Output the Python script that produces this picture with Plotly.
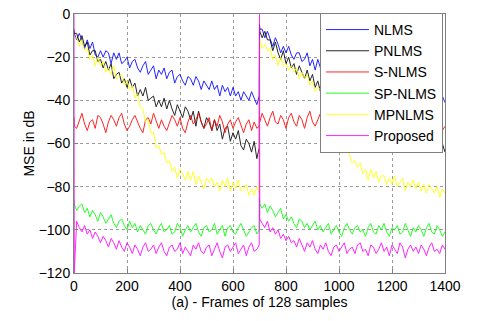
import plotly.graph_objects as go

# Frame indices (x axis): first echo path (0..699), second (700..1400)
frames_1 = [0, 1] + list(range(10, 700, 10)) + [699]
frames_2 = [700, 701] + list(range(710, 1401, 10))
frames = frames_1 + frames_2

series_names = ["NLMS", "PNLMS", "S-NLMS", "SP-NLMS", "MPNLMS", "Proposed"]

nlms = [
    -7, -9, -12, -9, -12, -16, -12, -16, -13, -19, -20, -17,
    -20, -17, -18, -23, -18, -21, -18, -23, -22, -20, -25, -22,
    -21, -25, -27, -24, -22, -28, -26, -24, -30, -26, -28, -25,
    -30, -27, -26, -32, -29, -28, -31, -33, -29, -30, -33, -29,
    -31, -35, -31, -33, -35, -31, -35, -33, -38, -33, -36, -34,
    -38, -34, -38, -36, -40, -36, -38, -40, -36, -39, -42, -38,
    -5, -7, -7, -11, -8, -12, -15, -11, -14, -18, -15, -18,
    -15, -19, -21, -18, -18, -22, -21, -18, -24, -21, -26, -21,
    -25, -22, -28, -24, -28, -23, -26, -29, -26, -30, -26, -29,
    -25, -30, -31, -27, -30, -33, -29, -29, -33, -30, -35, -30,
    -34, -31, -34, -32, -37, -32, -34, -38, -33, -36, -33, -38,
    -35, -39, -35, -38, -35, -40, -38, -41, -37, -40, -38, -41,
]

pnlms = [
    -8, -9, -9, -13, -10, -15, -13, -19, -17, -17, -22, -21,
    -25, -22, -26, -23, -30, -28, -27, -32, -30, -34, -30, -34,
    -32, -38, -35, -38, -34, -40, -39, -38, -43, -40, -43, -39,
    -44, -40, -44, -47, -42, -45, -48, -43, -45, -49, -45, -52,
    -45, -50, -53, -48, -50, -54, -49, -54, -51, -58, -53, -52,
    -59, -55, -58, -54, -61, -63, -58, -60, -64, -59, -67, -62,
    -5, -8, -11, -8, -12, -12, -17, -13, -18, -21, -17, -23,
    -20, -25, -23, -28, -24, -27, -30, -26, -31, -28, -34, -31,
    -36, -33, -36, -33, -36, -40, -35, -39, -37, -41, -39, -43,
    -39, -43, -39, -43, -46, -41, -44, -48, -43, -44, -49, -44,
    -49, -44, -49, -52, -47, -50, -53, -48, -54, -51, -57, -52,
    -53, -58, -55, -59, -54, -62, -58, -61, -58, -64, -60, -64,
]

s_nlms = [
    -48, -52, -53, -49, -46, -51, -54, -50, -49, -53, -47, -48,
    -51, -55, -50, -47, -49, -52, -48, -46, -51, -54, -52, -49,
    -47, -50, -53, -55, -49, -48, -51, -46, -50, -53, -49, -52,
    -54, -50, -47, -49, -52, -48, -53, -55, -50, -47, -51, -49,
    -46, -50, -53, -51, -48, -54, -49, -52, -47, -50, -55, -51,
    -49, -53, -50, -48, -52, -55, -51, -49, -54, -50, -53, -52,
    -47, -50, -46, -49, -52, -48, -45, -50, -51, -47, -49, -53,
    -48, -46, -50, -52, -47, -49, -53, -48, -45, -50, -52, -49,
    -46, -51, -53, -48, -50, -47, -45, -51, -49, -53, -50, -47,
    -49, -52, -48, -46, -51, -54, -49, -47, -50, -52, -48, -51,
    -53, -49, -47, -50, -52, -48, -46, -51, -53, -49, -50, -47,
    -51, -54, -49, -47, -52, -50, -48, -53, -51, -49, -54, -52,
]

sp_nlms = [
    -86, -88, -91, -89, -88, -92, -90, -94, -91, -93, -96, -92,
    -94, -97, -95, -93, -97, -99, -96, -95, -98, -100, -96, -99,
    -97, -101, -98, -100, -102, -98, -97, -100, -102, -99, -97, -101,
    -100, -98, -102, -101, -97, -99, -103, -100, -98, -101, -99, -97,
    -101, -103, -99, -98, -101, -100, -97, -102, -100, -98, -103, -99,
    -98, -101, -102, -99, -97, -100, -103, -101, -99, -98, -102, -100,
    -85, -88, -90, -88, -92, -89, -91, -94, -92, -90, -95, -93,
    -96, -94, -97, -99, -95, -96, -99, -97, -100, -98, -96, -100,
    -98, -101, -99, -97, -102, -100, -98, -101, -103, -99, -97, -100,
    -102, -99, -98, -101, -100, -103, -99, -97, -101, -102, -98, -100,
    -97, -101, -103, -99, -100, -98, -102, -101, -97, -100, -103, -99,
    -101, -98, -100, -103, -99, -97, -101, -102, -98, -100, -103, -101,
]

mpnlms = [
    -10, -11, -11, -15, -12, -17, -16, -21, -19, -24, -20, -24,
    -22, -27, -25, -28, -24, -30, -29, -28, -33, -31, -35, -33,
    -39, -37, -43, -44, -50, -49, -55, -55, -62, -61, -65, -64,
    -69, -68, -73, -71, -76, -72, -74, -77, -73, -77, -73, -79,
    -75, -78, -81, -76, -78, -76, -80, -78, -82, -77, -80, -76,
    -82, -78, -81, -77, -82, -81, -79, -84, -81, -84, -80, -83,
    -12, -12, -16, -14, -17, -16, -21, -19, -24, -20, -24, -23,
    -26, -24, -27, -25, -30, -27, -30, -28, -33, -31, -36, -34,
    -35, -40, -38, -44, -45, -51, -50, -56, -57, -63, -62, -66,
    -69, -68, -71, -69, -74, -72, -77, -72, -76, -73, -78, -75,
    -75, -79, -76, -79, -75, -80, -78, -76, -82, -78, -80, -77,
    -81, -78, -82, -79, -83, -79, -81, -83, -80, -85, -81, -83,
]

proposed = [
    0, -120, -96, -99, -101, -98, -102, -100, -104, -101, -103, -106,
    -103, -105, -108, -104, -106, -109, -105, -108, -110, -106, -108, -111,
    -107, -109, -112, -108, -106, -110, -109, -107, -111, -108, -106, -110,
    -112, -108, -107, -110, -109, -106, -111, -108, -110, -112, -107, -109,
    -106, -110, -111, -108, -107, -112, -109, -106, -110, -113, -108, -107,
    -110, -108, -106, -111, -109, -107, -112, -108, -106, -110, -109, -107,
    0, -95, -97, -99, -96, -101, -99, -102, -100, -104, -102, -105,
    -103, -106, -105, -108, -104, -107, -110, -106, -108, -105, -109, -111,
    -107, -109, -106, -110, -112, -108, -107, -110, -108, -106, -111, -109,
    -108, -111, -107, -106, -110, -109, -112, -107, -108, -111, -109, -106,
    -110, -108, -112, -107, -109, -111, -106, -108, -113, -109, -107, -110,
    -108, -111, -107, -109, -112, -108, -106, -110, -109, -111, -107, -109,
]

x_ticks = [0, 200, 400, 600, 800, 1000, 1200, 1400]
y_ticks = [0, -20, -40, -60, -80, -100, -120]

colors = ["#0000ff", "#000000", "#ff0000", "#00ff00", "#ffff00", "#ff00ff"]
values = [nlms, pnlms, s_nlms, sp_nlms, mpnlms, proposed]

fig = go.Figure()
for name, vals, col in zip(series_names, values, colors):
    fig.add_trace(go.Scatter(
        x=frames, y=vals, mode="lines", name=name,
        line=dict(color=col, width=1),
        opacity=0.85,
    ))

font_family = "Liberation Sans, Arial, sans-serif"
axis_common = dict(
    showline=True, linecolor="#808080", linewidth=1, mirror=True,
    showgrid=True, gridcolor="#9a9a9a", griddash="dot", gridwidth=1,
    ticks="inside", ticklen=4, tickcolor="#808080",
    zeroline=False, automargin=False,
    tickfont=dict(family=font_family, size=14, color="#000000"),
)

fig.update_layout(
    width=480, height=321,
    margin=dict(l=74, r=35, t=14, b=48),
    paper_bgcolor="white", plot_bgcolor="white",
    font=dict(family=font_family, size=14, color="#000000"),
    xaxis=dict(range=[0, 1400], tickvals=x_ticks,
               title=dict(text="(a) - Frames of 128 samples", standoff=0,
                          font=dict(size=14)),
               **axis_common),
    yaxis=dict(range=[-120, 0], tickvals=y_ticks,
               title=dict(text="MSE in dB", standoff=0, font=dict(size=14)),
               **axis_common),
    legend=dict(
        x=0.663, y=1.004, xanchor="left", yanchor="top",
        bgcolor="white", bordercolor="#808080", borderwidth=1,
        font=dict(family=font_family, size=14, color="#000000"),
        tracegroupgap=0, itemwidth=43,
    ),
    showlegend=True,
)

fig.write_html("out.html", config={"displayModeBar": False},
               post_script="document.body.style.margin='0px';")
